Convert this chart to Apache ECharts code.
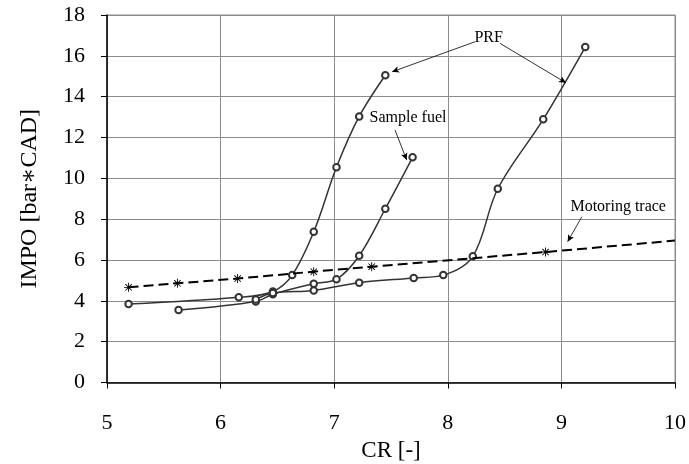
<!DOCTYPE html>
<html>
<head>
<meta charset="utf-8">
<script src="https://cdn.jsdelivr.net/npm/echarts@6/dist/echarts.min.js"></script>
<style>html,body{margin:0;padding:0;background:#fff}#c{width:689px;height:464px}</style>
</head>
<body>
<div id="c"></div>
<script>
// Data: [CR, IMPO]
const prfLow = [[5.19,3.84],[6.16,4.17],[6.46,4.46],[6.63,5.26],[6.82,7.38],[7.02,10.54],[7.22,13.03],[7.45,15.05]];
const sampleFuel = [[5.63,3.55],[6.31,3.97],[6.46,4.32],[6.82,4.84],[7.02,5.06],[7.22,6.21],[7.45,8.51],[7.69,11.03]];
const prfHigh = [[6.31,4.07],[6.46,4.38],[6.82,4.51],[7.22,4.89],[7.70,5.12],[7.96,5.26],[8.22,6.18],[8.44,9.49],[8.84,12.89],[9.21,16.43]];
const motoring = [[5.19,4.66],[5.62,4.86],[6.15,5.09],[6.82,5.43],[7.33,5.67],[8.86,6.39]];
const motoringEnd = [10,6.95];
const xTicks = [5,6,7,8,9,10];
const yTicks = [0,2,4,6,8,10,12,14,16,18];

// annotations (data coordinates)
const annText = [
  {name:'PRF', coord:[8.36,16.87]},
  {name:'Sample fuel', coord:[7.65,12.95]},
  {name:'Motoring trace', coord:[9.50,8.59]}
];
const annArrows = [
  [[8.24,16.69],[7.51,15.22]],
  [[8.46,16.61],[9.04,14.68]],
  [[7.535,12.37],[7.638,10.9]],
  [[9.18,8.12],[9.055,6.9]]
];

const FONT = '"Liberation Serif", "DejaVu Serif", serif';
const ast = 'path://M9,0L11,0L11,20L9,20Z M2.2,3.6L3.6,2.2L17.8,16.4L16.4,17.8Z M16.4,2.2L17.8,3.6L3.6,17.8L2.2,16.4Z M0,9L20,9L20,11L0,11Z';

const curveStyle = (d) => ({
  type:'line', data:d, smooth:0.35, symbol:'emptyCircle', symbolSize:6.5,
  lineStyle:{color:'#333', width:1.5}, itemStyle:{color:'#333', borderWidth:1}, z:3
});

const chart = echarts.init(document.getElementById('c'), null, {renderer:'canvas'});
chart.setOption({
  animation:false,
  backgroundColor:'#fff',
  grid:{left:107, right:14, top:15, bottom:81.5, show:true, borderColor:'#8c8c8c', borderWidth:1,
        containLabel:false, outerBoundsMode:'none'},
  xAxis:{
    type:'value', min:5, max:10, interval:1,
    name:'CR [-]', nameLocation:'middle', nameGap:53,
    nameTextStyle:{fontFamily:FONT, fontSize:23, color:'#000'},
    axisLine:{show:true, onZero:false, lineStyle:{color:'#000', width:1.5}},
    axisTick:{show:true, length:6, lineStyle:{color:'#000'}},
    axisLabel:{fontFamily:FONT, fontSize:22, color:'#000', margin:30,
      formatter:(v)=> xTicks.includes(v) ? String(v) : ''},
    splitLine:{show:true, lineStyle:{color:'#8c8c8c', width:1}}
  },
  yAxis:{
    type:'value', min:0, max:18, interval:2,
    name:'IMPO [bar\u2217CAD]', nameLocation:'middle', nameGap:65, nameRotate:90,
    nameTextStyle:{fontFamily:FONT, fontSize:24, color:'#000'},
    axisLine:{show:true, onZero:false, lineStyle:{color:'#000', width:1.5}},
    axisTick:{show:true, length:6, lineStyle:{color:'#000'}},
    axisLabel:{fontFamily:FONT, fontSize:22, color:'#000', margin:22,
      formatter:(v)=> yTicks.includes(v) ? String(v) : ''},
    splitLine:{show:true, lineStyle:{color:'#8c8c8c', width:1}}
  },
  series:[
    curveStyle(prfLow),
    curveStyle(sampleFuel),
    curveStyle(prfHigh),
    {
      type:'line', data: motoring.concat([{value:motoringEnd, symbol:'none'}]),
      symbol:ast, symbolSize:9,
      lineStyle:{color:'#000', width:2, type:[10,5]},
      itemStyle:{color:'#000'}, z:4
    },
    {
      type:'scatter', data:[], silent:true,
      markPoint:{
        symbol:'circle', symbolSize:1, itemStyle:{color:'rgba(0,0,0,0)'},
        label:{show:true, position:'inside', formatter:'{b}', fontFamily:FONT, fontSize:16, color:'#000'},
        data: annText.map(a=>({name:a.name, coord:a.coord}))
      },
      markLine:{
        silent:true, symbol:['none','arrow'], symbolSize:[5,7],
        lineStyle:{color:'#000', width:0.8, type:'solid'},
        label:{show:false},
        data: annArrows.map(a=>[{coord:a[0]},{coord:a[1]}])
      }
    }
  ]
});
</script>
</body>
</html>
